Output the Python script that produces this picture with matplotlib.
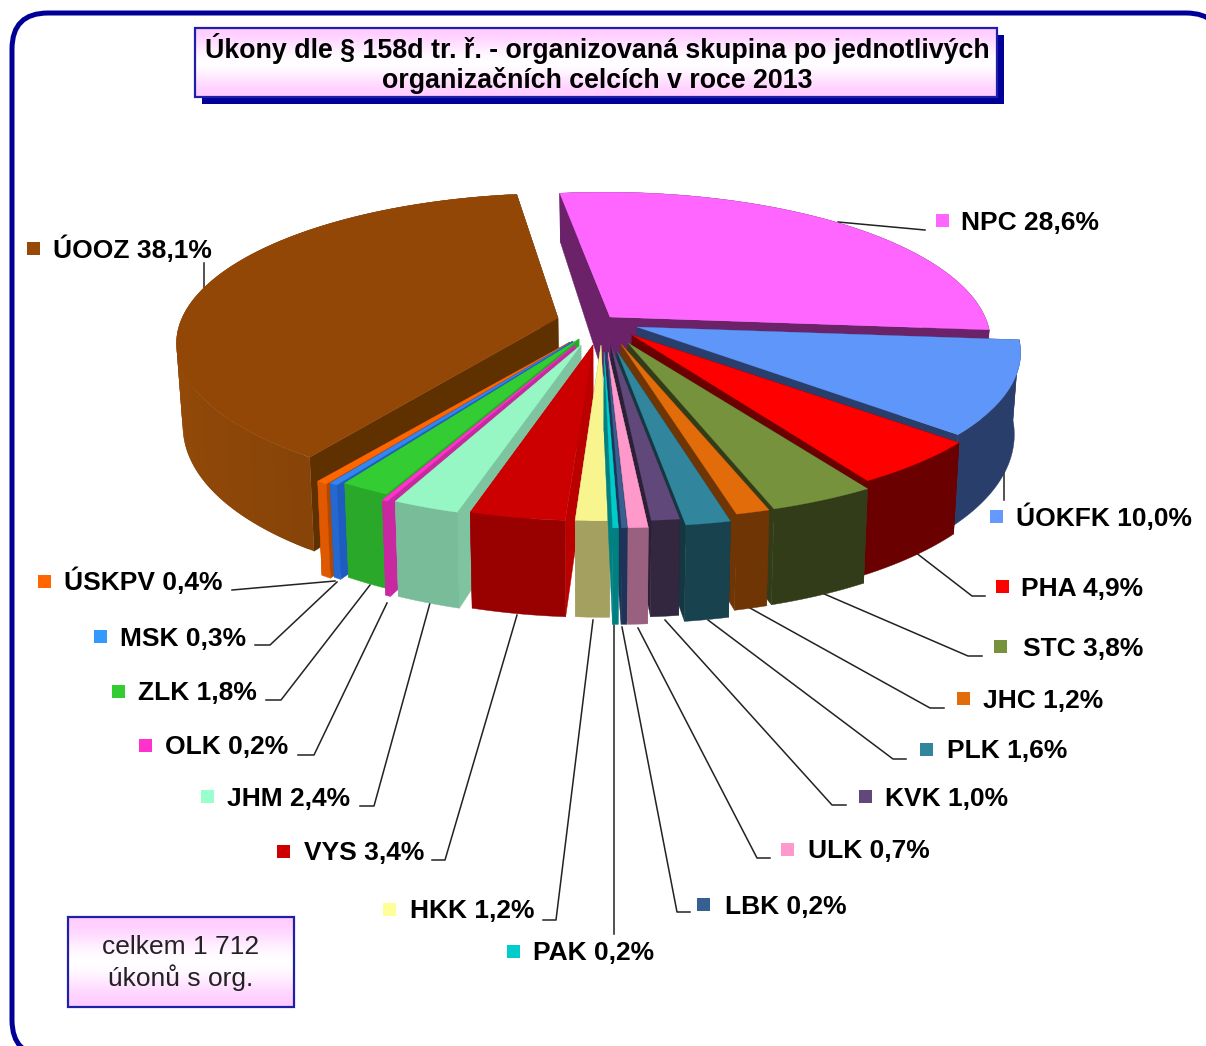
import numpy as np
import matplotlib
matplotlib.use("Agg")
import matplotlib.pyplot as plt
from matplotlib.patches import FancyBboxPatch, Polygon, Rectangle

# Data
names = ["NPC", "ÚOKFK", "PHA", "STC", "JHC", "PLK", "KVK", "ULK", "LBK", "PAK",
         "HKK", "VYS", "JHM", "OLK", "ZLK", "MSK", "ÚSKPV", "ÚOOZ"]
values = [28.6, 10.0, 4.9, 3.8, 1.2, 1.6, 1.0, 0.7, 0.2, 0.2,
          1.2, 3.4, 2.4, 0.2, 1.8, 0.3, 0.4, 38.1]

# Colours
top_colors = ["#FF66FF", "#5F96FA", "#FF0000", "#76923C", "#E26B0A", "#31859C", "#60497A", "#FF99CC", "#376092",
              "#00CCCC", "#F8F48E", "#CC0000", "#96F7C4", "#FF33CC", "#33CC33", "#3385F0", "#FF6600", "#934706"]
wall_colors = ["#6B2268", "#2A3E6B", "#6B0000", "#333C18", "#6F3504", "#18424E", "#33263F", "#99607F", "#1E3358",
               "#008080", "#A3A060", "#990000", "#79BC9A", "#C828A0", "#2AA82A", "#2468D0", "#E05800", "#8C4608"]
side_colors = ["#6B2268", "#2A3E6B", "#6B0000", "#333C18", "#6F3504", "#143842", "#2B2036", "#99607F", "#1E3358",
               "#008080", "#A3A060", "#BB0000", "#7EC4A0", "#C828A0", "#2AA82A", "#1F5CC0", "#B04800", "#5F3000"]
key_colors = ["#FF66FF", "#6699FF", "#FF0000", "#76923C", "#E26B0A", "#31859C", "#60497A", "#FF99CC", "#376092",
              "#00CCCC", "#FFFF99", "#CC0000", "#99FFCC", "#FF33CC", "#33CC33", "#3399FF", "#FF6600", "#984807"]

# Layout, in picture pixels
cx, cy = 600, 332
rx, ry = 380, 146
persp = 0.17
start_deg = -8
tips = [(610, 317), (637, 327), (632, 335), (628, 343), (621, 344), (617, 351), (611, 345), (608, 352), (607, 352),
        (604, 352), (601, 345), (593, 345), (581, 345), (575, 345), (579, 339), (573, 341), (570, 342), (558, 318)]
outer_dx = [-5, -2, 4, 8, 10, 8, 8, 8, 8, 8, 8, 6, 5, 3, 3, 1, 0, 4]
key_pos = [(936, 220, 961), (990, 516, 1016), (996, 586, 1021), (994, 646, 1023), (957, 698, 983), (920, 749, 947),
           (859, 796, 885), (781, 849, 808), (697, 904, 725), (507, 951, 533), (383, 909, 410), (277, 851, 304),
           (201, 796, 227), (139, 745, 165), (112, 691, 138), (94, 636, 120), (38, 581, 64), (27, 248, 53)]
leaders = [[(838, 222), (925, 230)], [(1004, 468), (1004, 500)], [(915, 552), (972, 596), (985, 596)],
           [(822, 593), (968, 656), (982, 656)], [(750, 608), (930, 708), (944, 708)],
           [(708, 620), (893, 759), (906, 759)], [(665, 620), (832, 805), (846, 805)],
           [(638, 628), (757, 858), (770, 858)], [(622, 627), (677, 912), (690, 912)],
           [(614, 625), (614, 934)], [(593, 620), (556, 920), (543, 920)], [(517, 615), (445, 860), (432, 860)],
           [(430, 603), (374, 806), (360, 806)], [(387, 603), (314, 755), (298, 755)],
           [(370, 585), (281, 700), (266, 700)], [(337, 582), (270, 645), (255, 645)],
           [(335, 581), (232, 590)], [(204, 263), (204, 288)]]

plt.rcParams['font.family'] = ['Liberation Sans', 'DejaVu Sans']
fig = plt.figure(figsize=(12.06, 10.46), dpi=100)
ax = fig.add_axes([0, 0, 1, 1])


def project(theta, r, tip, dx, w=0.0):
    """theta clockwise from the back of the pie, w = 0 top face, w = 1 bottom face."""
    u = r * np.sin(theta)
    v = -r * np.cos(theta)
    s = 1 / (1 - persp * v)
    x = tip[0] + rx * u * s + dx * r
    y = tip[1] + ry * v * s
    depth = 78 + 24 * v - 5.5 * v ** 2
    x = x + (cx - x) * 0.015 * w
    return x, y + depth * w


def draw_slice(a0, a1, top, wall, side, tip, dx, zorder):
    th = np.linspace(a0, a1, max(4, int((a1 - a0) * 60)))
    for a in (a0, a1):
        rr = np.array([0.0, 1.0])
        xt, yt = project(a, rr, tip, dx)
        xb, yb = project(a, rr, tip, dx, 1.0)
        ax.add_patch(Polygon(np.column_stack([np.r_[xt, xb[::-1]], np.r_[yt, yb[::-1]]]),
                             fc=side, ec=side, lw=0.3, zorder=zorder))
    xt, yt = project(th, 1.0, tip, dx)
    xb, yb = project(th, 1.0, tip, dx, 1.0)
    base = np.array(matplotlib.colors.to_rgb(wall))
    if a1 - a0 > 2:
        # only the big slice has visible shading on its wall, lighter toward the left
        for i in range(len(th) - 2):
            mid = np.sin(th[i])
            col = np.clip(base * (0.85 - 0.2 * mid), 0, 1)
            ax.add_patch(Polygon(np.column_stack([np.r_[xt[i:i + 3], xb[i:i + 3][::-1]],
                                                  np.r_[yt[i:i + 3], yb[i:i + 3][::-1]]]),
                                 fc=col, ec='none', zorder=zorder))
    else:
        ax.add_patch(Polygon(np.column_stack([np.r_[xt, xb[::-1]], np.r_[yt, yb[::-1]]]),
                             fc=base, ec=base, lw=0.3, zorder=zorder))
    ax.add_patch(Polygon(np.column_stack([np.r_[tip[0], xt], np.r_[tip[1], yt]]),
                         fc=top, ec=top, lw=0.2, zorder=zorder))


def gradient_box(x0, y0, x1, y1, zorder):
    grad = np.array([1.0, 0.55, 0.0, 0.0, 0.55, 1.0]).reshape(-1, 1)
    pink = np.array([1.0, 0.8, 1.0])
    img = 1 - grad[..., None] * (1 - pink)
    ax.imshow(img, extent=(x0, x1, y1, y0), aspect='auto', interpolation='bicubic', zorder=zorder)
    ax.add_patch(Rectangle((x0, y0), x1 - x0, y1 - y0, fc='none', ec='#1F1FA8', lw=1.6, zorder=zorder + 0.1))


# Frame, running past the right and bottom edge of the picture
ax.add_patch(FancyBboxPatch((12 + 36, 13 + 36), 1222 - 12 - 72, 1056 - 13 - 72,
                            boxstyle="round,pad=36,rounding_size=36", fc='white', ec='#000099', lw=3.6, zorder=1))

# Pie slices, far ones first
fractions = np.array(values) / np.sum(values)
edges = np.radians(start_deg) + 2 * np.pi * np.r_[0, np.cumsum(fractions)]
depth_order = sorted(range(len(values)), key=lambda k: -np.cos((edges[k] + edges[k + 1]) / 2))
for rank, i in enumerate(depth_order):
    draw_slice(edges[i], edges[i + 1], top_colors[i], wall_colors[i], side_colors[i], tips[i], outer_dx[i],
               5 + rank * 0.1)

# Labels
for name, val, key, (kx, ky, tx), line in zip(names, values, key_colors, key_pos, leaders):
    ax.add_patch(Rectangle((kx, ky - 6.5), 13, 13, fc=key, ec='none', zorder=10))
    ax.text(tx, ky + 9.5, f"{name} {val:.1f}".replace('.', ',') + "%", fontsize=19, fontweight='bold',
            va='baseline', ha='left', color='black', zorder=10)
    pts = np.array(line)
    ax.plot(pts[:, 0], pts[:, 1], color='#222222', lw=1.1, zorder=4)

# Title box
ax.add_patch(Rectangle((202, 35), 802, 69, fc='#000099', ec='none', zorder=2))
gradient_box(195, 28, 997, 97, 3)
ax.text(597, 48, "Úkony dle § 158d tr. ř. - organizovaná skupina po jednotlivých", fontsize=19.3, fontweight='bold',
        ha='center', va='center', zorder=10)
ax.text(597, 80, "organizačních celcích v roce 2013", fontsize=19.3, fontweight='bold',
        ha='center', va='center', zorder=10)

# Total box
gradient_box(68, 917, 294, 1007, 3)
ax.text(181, 947, "celkem 1 712", fontsize=19, ha='center', va='center', color='#222222', zorder=10)
ax.text(181, 978, "úkonů s org.", fontsize=19, ha='center', va='center', color='#222222', zorder=10)

ax.set_xlim(0, 1206)
ax.set_ylim(1046, 0)
ax.axis('off')
fig.savefig("out.png", dpi=100, facecolor='white')
